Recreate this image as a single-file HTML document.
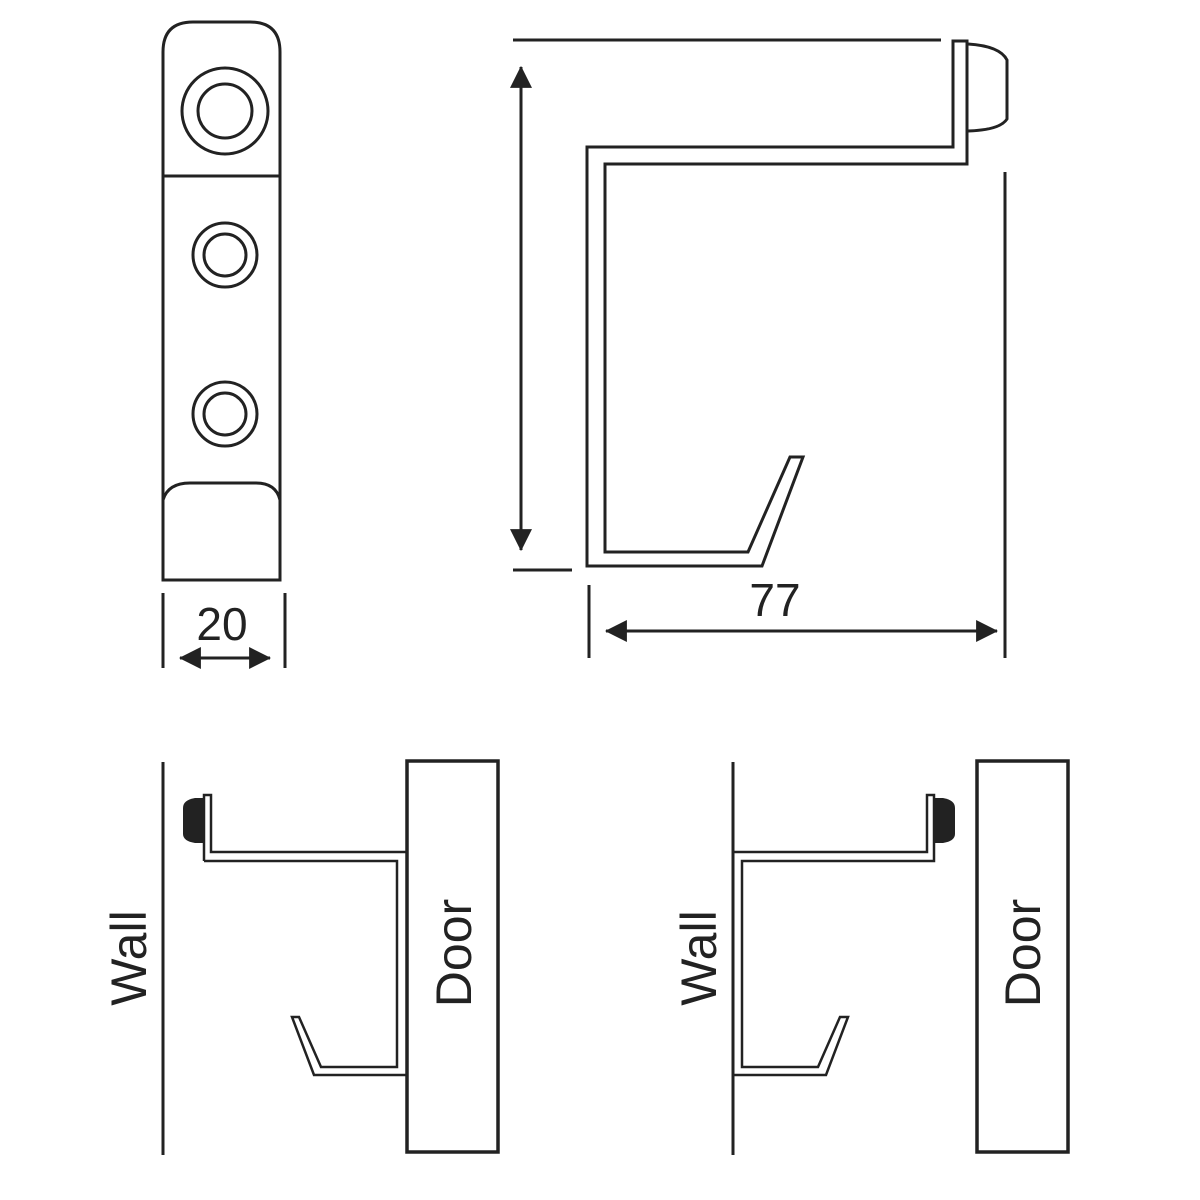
<!DOCTYPE html>
<html><head><style>body{margin:0;background:#fff}svg{display:block}</style></head><body>
<svg width="1200" height="1200" viewBox="0 0 1200 1200" xmlns="http://www.w3.org/2000/svg" font-family="Liberation Sans, sans-serif">
<defs>
<marker id="b" viewBox="0 0 20 20" markerWidth="22" markerHeight="22" refX="19" refY="10" orient="auto-start-reverse" markerUnits="userSpaceOnUse"><path d="M0,0 L20,10 L0,20Z" fill="#222"/></marker></defs>
<g fill="none" stroke="#222" stroke-width="3">
<path d="M163,580 L163,52 Q163,22 193,22 L250,22 Q280,22 280,52 L280,580 Z"/>
<line x1="163" y1="176" x2="280" y2="176"/>
<circle cx="225" cy="111" r="43"/><circle cx="225" cy="111" r="27"/>
<circle cx="225" cy="255" r="32"/><circle cx="225" cy="255" r="21"/>
<circle cx="225" cy="414" r="32"/><circle cx="225" cy="414" r="21"/>
<path d="M163,500 Q168,483 190,483 L256,483 Q276,483 280,500"/>
<line x1="163" y1="593" x2="163" y2="668"/><line x1="285" y1="593" x2="285" y2="668"/>
<line x1="180" y1="658" x2="270" y2="658" marker-start="url(#b)" marker-end="url(#b)"/>
<line x1="513" y1="40" x2="941" y2="40"/>
<line x1="521" y1="67" x2="521" y2="550" marker-start="url(#b)" marker-end="url(#b)"/>
<line x1="513" y1="570" x2="572" y2="570"/>
<line x1="1005" y1="172" x2="1005" y2="658"/>
<line x1="589" y1="585" x2="589" y2="658"/>
<line x1="606" y1="631" x2="997" y2="631" marker-start="url(#b)" marker-end="url(#b)"/>
<path d="M953,41 L967,41 L967,164 L605,164 L605,552 L748,552 L790,457 L803,457 L762,566 L587,566 L587,147 L953,147 Z"/>
<path d="M968,44 Q1000,46 1007,60 L1007,119 Q1000,130 968,131"/>
<line x1="163" y1="762" x2="163" y2="1155"/>
<rect x="407" y="761" width="91" height="391" stroke-width="3.5"/>
<path d="M204,861 L204,795 L211,795 L211,852 L407,852" stroke-width="2.5"/>
<path d="M407,1075 L314,1075 L292,1017 L299,1017 L321,1067 L397,1067 L397,861 L204,861" stroke-width="2.5"/>
<line x1="733" y1="762" x2="733" y2="1155"/>
<rect x="977" y="761" width="91" height="391" stroke-width="3.5"/>
<path d="M733,852 L927,852 L927,795 L934,795 L934,861 L742,861 L742,1067 L818,1067 L840,1017 L848,1017 L826,1075 L733,1075" stroke-width="2.5"/>
</g>
<path d="M204,798 L204,843 L195,843 Q183,841 183,834 L183,808 Q183,800 195,798Z" fill="#222"/>
<path d="M934,798 L934,843 L943,843 Q955,841 955,834 L955,808 Q955,800 943,798Z" fill="#222"/>
<g fill="#222" font-size="46">
<text x="222" y="640" text-anchor="middle">20</text>
<text x="775" y="616" text-anchor="middle">77</text>
<text transform="translate(146,958) rotate(-90)" text-anchor="middle" font-size="50">Wall</text>
<text transform="translate(471,953) rotate(-90)" text-anchor="middle" font-size="50">Door</text>
<text transform="translate(716,958) rotate(-90)" text-anchor="middle" font-size="50">Wall</text>
<text transform="translate(1040,953) rotate(-90)" text-anchor="middle" font-size="50">Door</text>
</g>
</svg>
</body></html>
